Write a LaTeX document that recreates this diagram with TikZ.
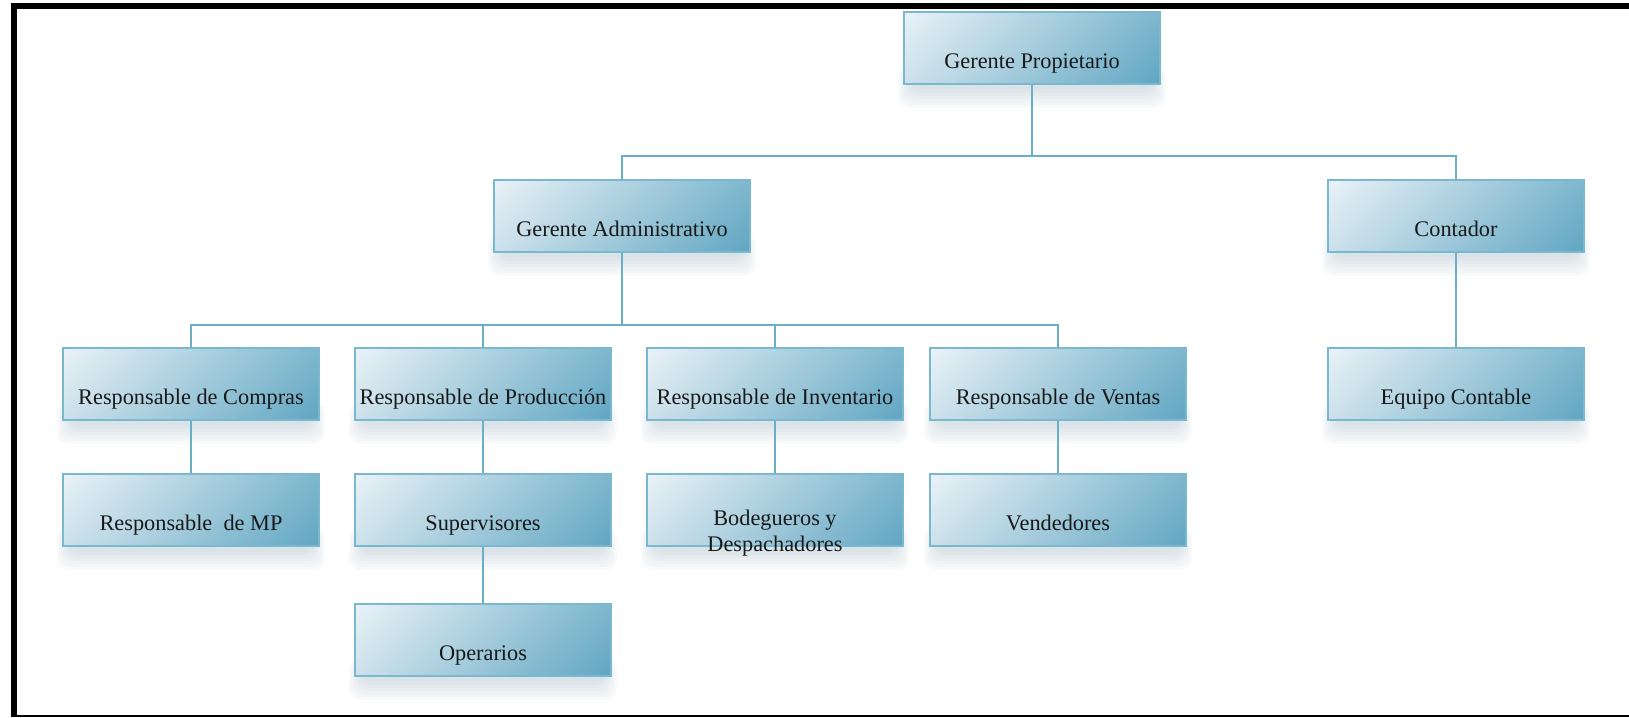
\documentclass[tikz,border=0pt]{standalone}
\usepackage{fontspec}
\setmainfont{Liberation Serif}
\usetikzlibrary{shadings}
% box colours: diagonal gradient from light (upper left) to teal (lower right)
\definecolor{cA}{RGB}{234,242,247}
\definecolor{cB}{RGB}{126,183,206}
\definecolor{cC}{RGB}{204,225,235}
\definecolor{cD}{RGB}{96,166,194}
\definecolor{edgec}{RGB}{122,184,208}
\definecolor{linkc}{RGB}{106,174,200}
\definecolor{shadowc}{RGB}{90,130,150}
\definecolor{textc}{RGB}{25,25,25}

% \orgbox[caption shift]{name}{x}{y}{text}: soft shadow, shaded box and its caption
\newcommand\orgbox[5][20.5]{%
  \foreach \k in {0,...,6}{%
    \fill[shadowc, opacity=0.035, rounded corners=6pt]
      (#3-134+2*\k, #4+18) rectangle (#3+134-2*\k, #4+60-3*\k);
  }%
  \node[orgrect] (#2) at (#3,#4) {};
  \node[orgtext] (#2-t) at (#3,#4+#1) {#5};
}

\begin{document}
\begin{tikzpicture}[x=0.02cm,y=-0.02cm,
  orgrect/.style={draw=edgec, line width=1.6*0.02cm, inner sep=0pt,
    minimum width=256*0.02cm, minimum height=72*0.02cm,
    upper left=cA, upper right=cB, lower left=cC, lower right=cD},
  orgtext/.style={anchor=base, inner sep=0pt, text=textc, align=center,
    font=\fontsize{12.7pt}{15pt}\selectfont},
  conn/.style={draw=linkc, line width=2*0.02cm}]

\useasboundingbox (0,0) rectangle (1629,717);

% page frame
\fill[black] (11,3) rectangle (1629,8.7);
\fill[black] (11,3) rectangle (16.5,717);
\fill[black] (11,715.3) rectangle (1629,717);

% buses
\coordinate (bus1) at (0,156);
\coordinate (bus2) at (0,325);

% boxes
\orgbox{gp}{1032}{48}{Gerente Propietario}
\orgbox{ga}{622}{216}{Gerente Administrativo}
\orgbox{ct}{1456}{216}{Contador}
\orgbox{rc}{191}{384}{Responsable de Compras}
\orgbox{rp}{483}{384}{Responsable de Producción}
\orgbox{ri}{775}{384}{Responsable de Inventario}
\orgbox{rv}{1058}{384}{Responsable de Ventas}
\orgbox{ec}{1456}{384}{Equipo Contable}
\orgbox{mp}{191}{510}{Responsable~~de MP}
\orgbox{sp}{483}{510}{Supervisores}
\orgbox[41.5]{bd}{775}{510}{Bodegueros y\\Despachadores}
\orgbox{vd}{1058}{510}{Vendedores}
\orgbox{op}{483}{640}{Operarios}

% connectors
\draw[conn] (gp.south) -- (gp.south |- bus1);
\draw[conn] (ga.north) |- (ct.north |- bus1) -- (ct.north);
\draw[conn] (ga.south) -- (ga.south |- bus2);
\draw[conn] (rc.north) |- (rv.north |- bus2) -- (rv.north);
\draw[conn] (rp.north) -- (rp.north |- bus2);
\draw[conn] (ri.north) -- (ri.north |- bus2);
\draw[conn] (ct.south) -- (ec.north);
\draw[conn] (rc.south) -- (mp.north);
\draw[conn] (rp.south) -- (sp.north);
\draw[conn] (sp.south) -- (op.north);
\draw[conn] (ri.south) -- (bd.north);
\draw[conn] (rv.south) -- (vd.north);
\end{tikzpicture}
\end{document}
